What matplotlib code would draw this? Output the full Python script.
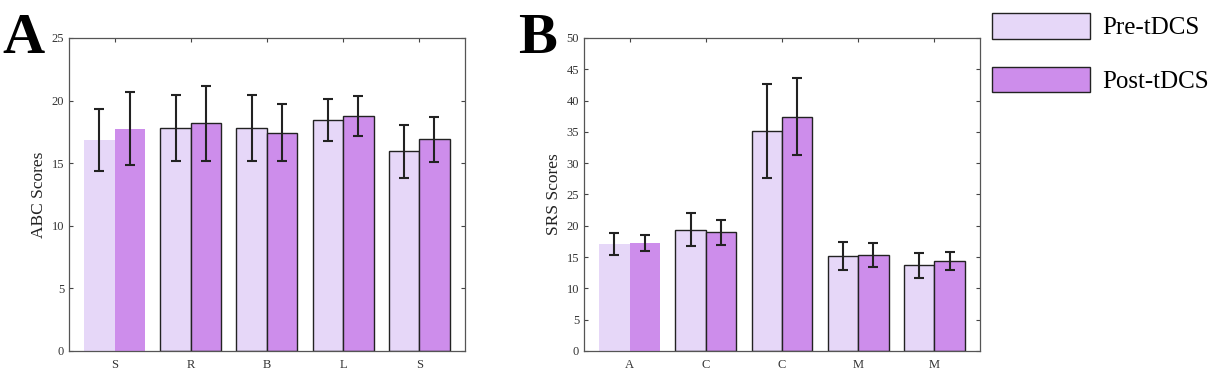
import numpy as np
import matplotlib
matplotlib.use("Agg")
import matplotlib.pyplot as plt
from matplotlib.patches import Patch

plt.rcParams['font.family'] = ['Liberation Serif', 'DejaVu Serif']

# panel A data
abc_labels = ['S', 'R', 'B', 'L', 'S']
abc_pre = [16.85, 17.8, 17.8, 18.45, 15.95]
abc_post = [17.75, 18.2, 17.45, 18.8, 16.9]
abc_pre_err = [2.5, 2.65, 2.65, 1.7, 2.1]
abc_post_err = [2.9, 3.0, 2.3, 1.6, 1.8]

# panel B data
srs_labels = ['A', 'C', 'C', 'M', 'M']
srs_pre = [17.1, 19.4, 35.1, 15.2, 13.7]
srs_post = [17.3, 18.95, 37.45, 15.3, 14.35]
srs_pre_err = [1.7, 2.65, 7.5, 2.2, 2.0]
srs_post_err = [1.3, 2.0, 6.1, 1.9, 1.4]

pre_col = '#e6d7f8'
post_col = '#cd8deb'
gray = '#444444'

fig = plt.figure(figsize=(12.29, 3.82), dpi=100)


def panel(rect, labels, pre, post, pre_err, post_err, ymax, ylabel, letter):
    ax = fig.add_axes(rect)
    x = np.arange(1, len(labels) + 1)
    w = 0.4
    # first group drawn without outline, as in the source figure
    edges = ['none'] + ['#222222'] * (len(labels) - 1)
    ax.bar(x - w / 2, pre, w, color=pre_col, edgecolor=edges, linewidth=1.0, zorder=2)
    ax.bar(x + w / 2, post, w, color=post_col, edgecolor=edges, linewidth=1.0, zorder=2)
    ax.errorbar(x - w / 2, pre, yerr=pre_err, fmt='none', ecolor='#222222',
                elinewidth=1.5, capsize=3.5, capthick=1.5, zorder=3)
    ax.errorbar(x + w / 2, post, yerr=post_err, fmt='none', ecolor='#222222',
                elinewidth=1.5, capsize=3.5, capthick=1.5, zorder=3)
    ax.set_xlim(0.4, len(labels) + 0.6)
    ax.set_ylim(0, ymax)
    ax.set_xticks(x)
    ax.set_xticklabels(labels)
    ax.set_yticks(np.arange(0, ymax + 1, 5))
    ax.tick_params(direction='in', top=True, right=True, length=3, width=0.8,
                   colors=gray, labelsize=9, labelcolor='#333333')
    ax.tick_params(axis='x', pad=6)
    for s in ax.spines.values():
        s.set_color('#555555')
        s.set_linewidth(0.9)
    ax.set_ylabel(ylabel, fontsize=12.5, color='#222222', labelpad=3)
    fig.text(rect[0] - 0.054, 0.86, letter, fontsize=42, fontweight='bold', ha='left', va='baseline')
    return ax


panel([0.0561, 0.0812, 0.3222, 0.8194], abc_labels, abc_pre, abc_post,
      abc_pre_err, abc_post_err, 25, 'ABC Scores', 'A')
panel([0.4752, 0.0812, 0.3222, 0.8194], srs_labels, srs_pre, srs_post,
      srs_pre_err, srs_post_err, 50, 'SRS Scores', 'B')

handles = [Patch(facecolor=pre_col, edgecolor='#222222', linewidth=1.0, label='Pre-tDCS'),
           Patch(facecolor=post_col, edgecolor='#222222', linewidth=1.0, label='Post-tDCS')]
fig.legend(handles=handles, loc='upper left', bbox_to_anchor=(0.789, 1.025), frameon=False,
           fontsize=18, handlelength=3.9, handleheight=1.2, handletextpad=0.5, labelspacing=1.1)

fig.savefig('out.png', dpi=100)
